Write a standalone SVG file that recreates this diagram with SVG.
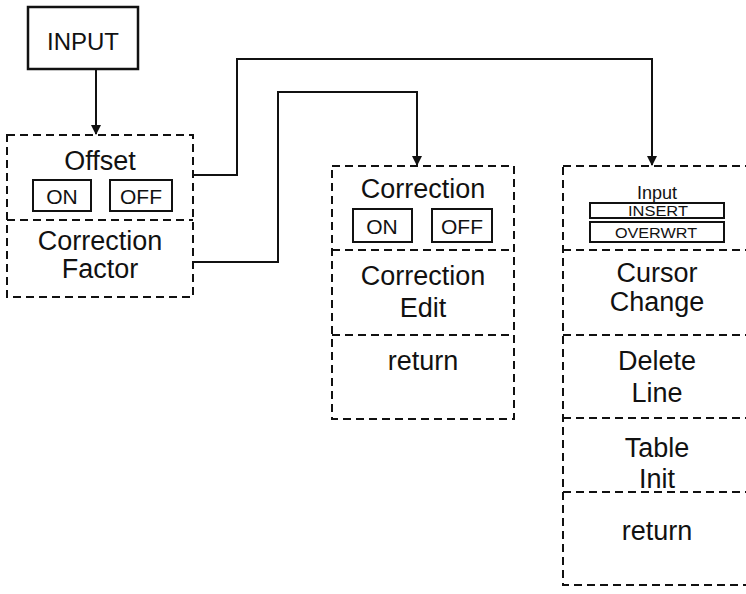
<svg xmlns="http://www.w3.org/2000/svg" width="746" height="594" viewBox="0 0 746 594">
<defs>
<style>
text{font-family:"Liberation Sans",Arial,sans-serif;fill:#111;text-anchor:middle}
.t{font-size:27px}
.b{font-size:21px}
.s{font-size:14px}
.dash{fill:none;stroke:#111;stroke-width:2;stroke-dasharray:8 5}
.solid{fill:none;stroke:#111;stroke-width:2.5}
.btn{fill:none;stroke:#111;stroke-width:2}
.conn{fill:none;stroke:#111;stroke-width:2;marker-end:url(#arr)}
</style>
<marker id="arr" viewBox="0 0 10 10" refX="9" refY="5" markerWidth="6" markerHeight="5" markerUnits="strokeWidth" orient="auto">
<path d="M0,0 L10,5 L0,10 z" fill="#111"/>
</marker>
</defs>
<rect width="746" height="594" fill="#fff"/>
<g id="input">
<rect class="solid" x="28" y="7" width="110" height="62"/>
<text x="83" y="50" style="font-size:24px">INPUT</text>
</g>
<g id="offset-menu">
<rect class="dash" x="7" y="135" width="186" height="162"/>
<line class="dash" x1="7" y1="220" x2="193" y2="220"/>
<text class="t" x="100" y="170">Offset</text>
<rect class="btn" x="33" y="180" width="58" height="31"/>
<text class="b" x="62" y="204">ON</text>
<rect class="btn" x="110" y="180" width="62" height="31"/>
<text class="b" x="141" y="204">OFF</text>
<text class="t" x="100" y="250">Correction</text>
<text class="t" x="100" y="278">Factor</text>
</g>
<g id="correction-menu">
<rect class="dash" x="332" y="166" width="182" height="253"/>
<line class="dash" x1="332" y1="250" x2="514" y2="250"/>
<line class="dash" x1="332" y1="335" x2="514" y2="335"/>
<text class="t" x="423" y="198">Correction</text>
<rect class="btn" x="353" y="209" width="59" height="33"/>
<text class="b" x="382" y="234">ON</text>
<rect class="btn" x="432" y="209" width="60" height="33"/>
<text class="b" x="462" y="234">OFF</text>
<text class="t" x="423" y="285">Correction</text>
<text class="t" x="423" y="317">Edit</text>
<text class="t" x="423" y="370">return</text>
</g>
<g id="table-menu">
<rect class="dash" x="563" y="166" width="190" height="419"/>
<line class="dash" x1="563" y1="250" x2="753" y2="250"/>
<line class="dash" x1="563" y1="335" x2="753" y2="335"/>
<line class="dash" x1="563" y1="418" x2="753" y2="418"/>
<line class="dash" x1="563" y1="492" x2="753" y2="492"/>
<text x="657" y="199" style="font-size:18px">Input</text>
<rect class="btn" x="590" y="203" width="134" height="15"/>
<text class="s" x="658" y="216" textLength="60" lengthAdjust="spacingAndGlyphs">INSERT</text>
<rect class="btn" x="590" y="222" width="134" height="20"/>
<text class="s" x="656" y="238" textLength="82" lengthAdjust="spacingAndGlyphs">OVERWRT</text>
<text class="t" x="657" y="282">Cursor</text>
<text class="t" x="657" y="311">Change</text>
<text class="t" x="657" y="370">Delete</text>
<text class="t" x="657" y="402">Line</text>
<text class="t" x="657" y="457">Table</text>
<text class="t" x="657" y="488">Init</text>
<text class="t" x="657" y="540">return</text>
</g>
<g id="connectors">
<path class="conn" d="M96,69 L96,134"/>
<path class="conn" d="M193,175 L237,175 L237,59 L652,59 L652,165"/>
<path class="conn" d="M193,262 L278,262 L278,92 L417,92 L417,165"/>
</g>
</svg>
